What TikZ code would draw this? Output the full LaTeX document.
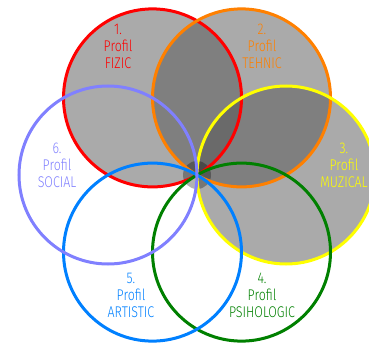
\documentclass[tikz,border=0pt]{standalone}
\usepackage{fontspec}
\setmainfont{Fira Sans Light}
\usepackage{graphicx}
\definecolor{cred}{RGB}{255,0,0}
\definecolor{corange}{RGB}{255,128,0}
\definecolor{cyellow}{RGB}{255,255,0}
\definecolor{cgreen}{RGB}{0,128,0}
\definecolor{cblue}{RGB}{0,128,255}
\definecolor{cpurple}{RGB}{128,128,255}
\definecolor{shadegray}{RGB}{85,85,85}
\newcommand{\narr}[1]{\scalebox{0.8}[1]{#1}}
\begin{document}
\begin{tikzpicture}[x=1pt,y=-1pt,
  ring/.style={line width=3pt},
  shaded/.style={fill=shadegray, fill opacity=0.5},
  lbl/.style={align=center, font=\fontsize{15.5}{17}\selectfont, inner sep=0pt}]
\useasboundingbox (0,0) rectangle (369,345);
\clip (0,0) rectangle (369,345);
\coordinate (c1) at (152.5,97.9);
\coordinate (c2) at (241.5,97.9);
\coordinate (c3) at (286,175);
\coordinate (c4) at (241.5,252.1);
\coordinate (c5) at (152.5,252.1);
\coordinate (c6) at (108,175);
\coordinate (cc) at (197,175);
% fills
\fill[shaded] (c1) circle[radius=89pt];
\fill[shaded] (c2) circle[radius=89pt];
\fill[shaded] (c3) circle[radius=89pt];
\fill[black, fill opacity=0.3] (cc) circle[radius=14pt];
% rings
\draw[ring, cred] (c1) circle[radius=89pt];
\draw[ring, corange] (c2) circle[radius=89pt];
\draw[ring, cyellow] (c3) circle[radius=89pt];
\draw[ring, cgreen] (c4) circle[radius=89pt];
\draw[ring, cblue] (c5) circle[radius=89pt];
\draw[ring, cpurple] (c6) circle[radius=89pt];
% labels
\node[lbl, text=cred] (t1) at (118,46) {\narr{1.}\\\narr{Profil}\\\narr{FIZIC}};
\node[lbl, text=corange] (t2) at (262,46) {\narr{2.}\\\narr{Profil}\\\narr{TEHNIC}};
\node[lbl, text=cyellow] (t3) at (344,165) {\narr{3.}\\\narr{Profil}\\\narr{MUZICAL}};
\node[lbl, text=cgreen] (t4) at (262,295) {\narr{4.}\\\narr{Profil}\\\narr{PSIHOLOGIC}};
\node[lbl, text=cblue] (t5) at (131,295) {\narr{5.}\\\narr{Profil}\\\narr{ARTISTIC}};
\node[lbl, text=cpurple] (t6) at (57,165) {\narr{6.}\\\narr{Profil}\\\narr{SOCIAL}};
\end{tikzpicture}
\end{document}
